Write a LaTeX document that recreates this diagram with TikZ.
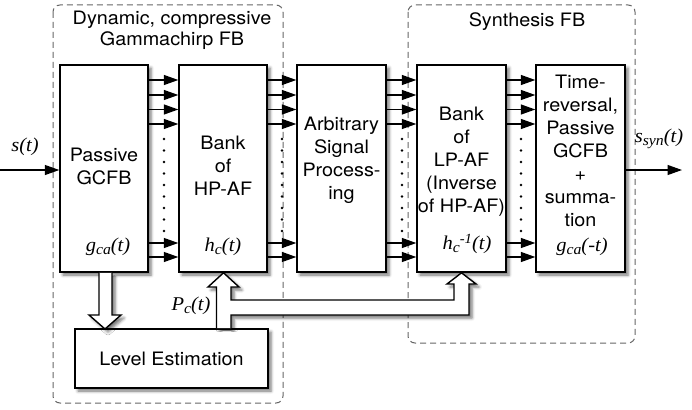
\documentclass[tikz,border=0pt]{standalone}
\usepackage{fontspec}
\setmainfont{TeX Gyre Heros}[FakeStretch=1.07]
\newfontfamily\tms{Liberation Serif}[FakeStretch=1.05]
\newcommand\mysub[1]{\raisebox{-0.32ex}{\fontsize{15}{15}\selectfont #1}}
\newcommand\mysup[1]{\raisebox{0.75ex}{\fontsize{14}{14}\selectfont #1}}
\usetikzlibrary{arrows.meta,shadows.blur}
\tikzset{
  shd/.style={blur shadow={shadow xshift=3pt, shadow yshift=-3pt, shadow blur radius=3pt, shadow opacity=55}},
  blk/.style={draw, line width=1.4pt, fill=white, minimum width=88pt, minimum height=207pt, inner sep=0pt, shd},
  txt/.style={align=center, inner sep=0pt, font=\fontsize{18.5}{23}\selectfont},
  ttl/.style={align=center, inner sep=0pt, font=\fontsize{18.5}{21.5}\selectfont},
  mth/.style={inner sep=0pt, font=\fontsize{19.5}{22}\selectfont\tms\itshape},
  arr/.style={line width=1.3pt, -{Triangle[length=14.5pt,width=10pt]}},
  grp/.style={draw=black!60, line width=1pt, dash pattern=on 6pt off 4pt, rounded corners=7pt},
  dotcol/.style={line width=2.8pt, line cap=round, dash pattern=on 0pt off 11.5pt},
  hollow/.style={draw, line width=1.4pt, fill=white, line join=miter, shd},
}
\begin{document}
\begin{tikzpicture}[x=1pt,y=-1pt]
\useasboundingbox (0,0) rectangle (692,409);
% group frames
\draw[grp] (53,5) rectangle (283,403);
\draw[grp] (408,5) rectangle (635,343);
\node[ttl] (t1) at (172,30.5) {Dynamic, compressive\\Gammachirp FB};
\node[ttl] (t2) at (527,22) {Synthesis FB};
% blocks
\node[blk] (pg) at (104,168.5) {};
\node[blk] (hp) at (223,168.5) {};
\node[blk, minimum width=89pt] (asp) at (341.5,168.5) {};
\node[blk, minimum width=89pt] (lp) at (461.5,168.5) {};
\node[blk, minimum width=89pt] (tr) at (580.5,168.5) {};
\node[draw, line width=1.4pt, fill=white, minimum width=193pt, minimum height=59pt, inner sep=0pt, shd] (le) at (171.5,358.5) {};
% block texts
\node[txt] (pgt) at (pg |- 0,166.5) {Passive\\GCFB};
\node[txt] (hpt) at (hp |- 0,166) {Bank\\of\\HP-AF};
\node[txt] (aspt) at (asp |- 0,160.5) {Arbitrary\\Signal\\Process-\\ing};
\node[txt] (lpt) at (lp |- 0,162) {Bank\\of\\LP-AF\\(Inverse\\of HP-AF)};
\node[txt] (trt) at (tr |- 0,151) {Time-\\reversal,\\Passive\\GCFB\\+\\summa-\\tion};
\node[txt] (let) at (le) {Level Estimation};
% math labels
\node[mth] (g1) at (108,247) {g\mysub{ca}(t)};
\node[mth] (h1) at (223,247) {h\mysub{c}(t)};
\node[mth] (h2) at (467,244) {h\mysub{c}\mysup{-1}(t)};
\node[mth] (g2) at (582,247) {g\mysub{ca}(-t)};
\node[mth] (st) at (25,147) {s(t)};
\node[mth] (ss) at (659,139) {s\mysub{syn}(t)};
\node[mth] (pc) at (191,306) {P\mysub{c}(t)};
% channel arrows
\foreach \a/\b in {pg/hp, hp/asp, asp/lp, lp/tr}{
  \foreach \yy in {80,95,109.5,124,243,257}{
    \draw[arr] (\a.east |- 0,\yy) -- (\b.west |- 0,\yy);
  }
}
% dot columns
\foreach \xx in {164,282,402,521}{
  \draw[dotcol] (\xx,139) -- (\xx,232);
}
% input / output
\coordinate (in) at (0,170);
\coordinate (out) at (682,170);
\draw[arr] (in) -- (pg.west |- in);
\draw[arr] (tr.east |- out) -- (out);
% hollow arrows
\path[hollow] (99,272.8) -- (99,315) -- (89,315) -- (105,329) -- (121,315) -- (112,315) -- (112,272.8);
\path[hollow] (216.5,328.2) -- (216.5,287) -- (208,287) -- (223.5,272.8) -- (239,287) -- (231,287) -- (231,300)
   -- (454,300) -- (454,284) -- (447,284) -- (461.5,272.8) -- (476,284) -- (469,284) -- (469,315) -- (231,315) -- (231,328.2);
\end{tikzpicture}
\end{document}
